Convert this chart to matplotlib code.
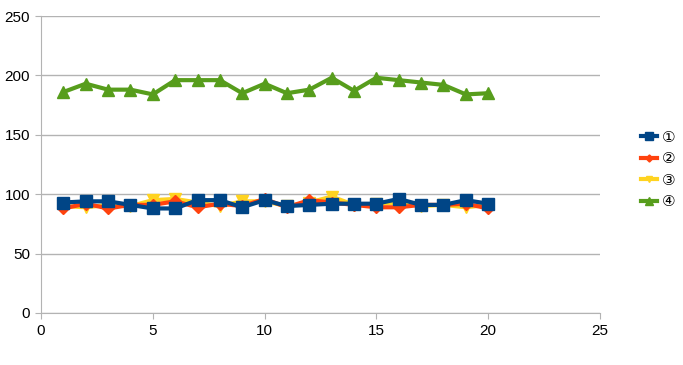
import matplotlib
matplotlib.use('Agg')
import matplotlib.pyplot as plt

plt.rcParams['font.family'] = ['Liberation Sans', 'DejaVu Sans', 'Noto Sans CJK JP']

x = list(range(1, 21))
s1 = [93, 94, 94, 91, 88, 88, 95, 95, 89, 95, 90, 91, 92, 92, 92, 96, 91, 91, 95, 92]
s2 = [88, 92, 88, 91, 91, 94, 89, 92, 90, 96, 89, 95, 93, 91, 89, 89, 91, 91, 92, 88]
s3 = [90, 89, 91, 90, 95, 96, 93, 90, 94, 94, 90, 93, 98, 91, 92, 93, 90, 91, 89, 91]
s4 = [186, 193, 188, 188, 184, 196, 196, 196, 185, 193, 185, 188, 198, 187, 198, 196, 194, 192, 184, 185]
labels = ['①', '②', '③', '④']

fig = plt.figure(figsize=(6.83, 3.65), dpi=100)
ax = fig.add_axes([41 / 683, 1 - 313 / 365, 559 / 683, 297 / 365])

ax.plot(x, s2, color='#ff420e', lw=3, marker='D', ms=6, label=labels[1], zorder=3)
ax.plot(x, s3, color='#ffd320', lw=3, marker='v', ms=8, label=labels[2], zorder=2)
ax.plot(x, s1, color='#004586', lw=3, marker='s', ms=9, label=labels[0], zorder=4)
ax.plot(x, s4, color='#579d1c', lw=3, marker='^', ms=9, label=labels[3], zorder=4)

ax.set_xlim(0, 25)
ax.set_ylim(0, 250)
ax.set_xticks(range(0, 26, 5))
ax.set_yticks(range(0, 251, 50))
ax.grid(axis='y', color='#b3b3b3', lw=1)
ax.set_axisbelow(True)
for side in ['top', 'right']:
    ax.spines[side].set_visible(False)
for side in ['left', 'bottom']:
    ax.spines[side].set_color('#b3b3b3')
ax.tick_params(axis='both', length=4, color='#b3b3b3', direction='out',
               labelsize=11, pad=4)

h, l = ax.get_legend_handles_labels()
order = [2, 0, 1, 3]
leg = fig.legend([h[i] for i in order], [l[i] for i in order],
                 loc='center left', bbox_to_anchor=(627 / 683, 1 - 170 / 365),
                 frameon=False, fontsize=11, handlelength=1.05, markerscale=0.6,
                 labelspacing=0.5, handletextpad=0.3)

fig.savefig('out.png', dpi=100)
